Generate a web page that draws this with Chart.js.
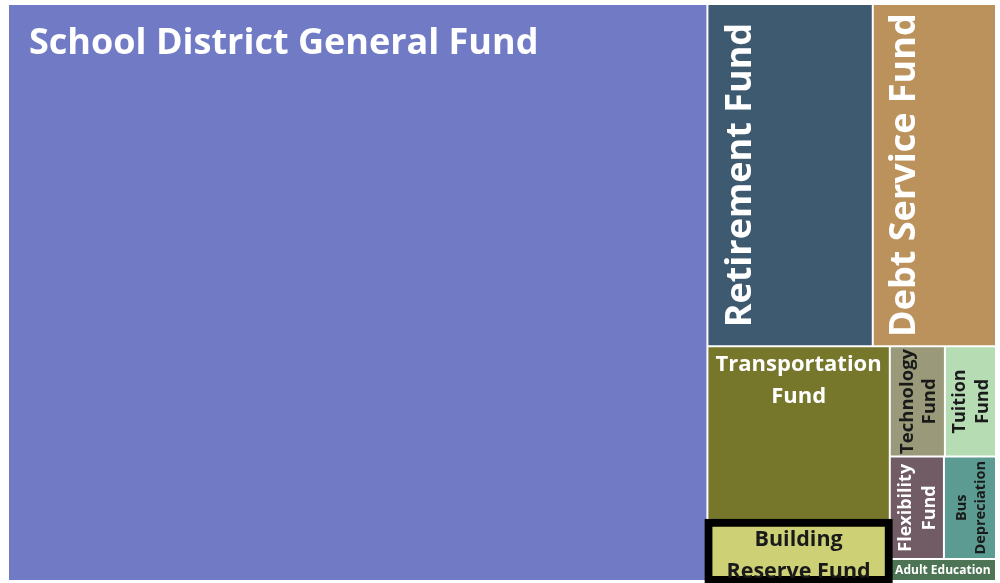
<!DOCTYPE html>
<html>
<head>
<meta charset="utf-8">
<script src="https://cdn.jsdelivr.net/npm/chart.js@4.4.1/dist/chart.umd.min.js"></script>
<style>
html,body{margin:0;padding:0;background:#fff;}
#wrap{width:1000px;height:583px;position:relative;}
</style>
</head>
<body>
<div id="wrap"><canvas id="c"></canvas></div>
<script>
// ---------- DATA ----------
const categories = ['School District General Fund','Retirement Fund','Debt Service Fund','Transportation Fund','Building Reserve Fund','Technology Fund','Tuition Fund','Flexibility Fund','Bus Depreciation','Adult Education'];
const values = [40135, 5627, 4194, 3185, 1074, 605, 561, 551, 530, 233];
const labelLines = [
  ['School District General Fund'],
  ['Retirement Fund'],
  ['Debt Service Fund'],
  ['Transportation','Fund'],
  ['Building','Reserve Fund'],
  ['Technology','Fund'],
  ['Tuition','Fund'],
  ['Flexibility','Fund'],
  ['Bus','Depreciation'],
  ['Adult Education']
];

// ---------- STYLE ----------
const fillColors = ['#717bc5','#3e5a71','#bc925c','#76772b','#cdd074','#9a9a7a','#b6dcb4','#715b64','#5b9b91','#4d7454'];
const borderWidths = [0,0,0,0,8,0,0,0,0,0];
const inflateAmounts = [0,0,0,0,4,0,0,0,0,0];
const labelStyles = [
  {size:36, color:'#ffffff', rotate:false, h:'left',   v:'top',    padX:20, padY:15, lh:42},
  {size:36, color:'#ffffff', rotate:true,  h:'center', v:'top',    padX:0,  padY:8,  lh:44},
  {size:36, color:'#ffffff', rotate:true,  h:'center', v:'top',    padX:0,  padY:6,  lh:44},
  {size:22, color:'#ffffff', rotate:false, h:'center', v:'top',    padX:0,  padY:0,  lh:32},
  {size:21.5, color:'#1a1a1a', rotate:false, h:'center', v:'top',  padX:0,  padY:0,  lh:32},
  {size:18.5, color:'#1a1a1a', rotate:true,  h:'center', v:'middle', padX:0, padY:0, lh:22},
  {size:18, color:'#1a1a1a', rotate:true,  h:'center', v:'middle', padX:0,  padY:0,  lh:23},
  {size:18, color:'#ffffff', rotate:true,  h:'center', v:'middle', padX:0,  padY:0,  lh:24},
  {size:14.5, color:'#1a1a1a', rotate:true, h:'center', v:'middle', padX:0, padY:0,  lh:19},
  {size:12, color:'#ffffff', rotate:false, h:'center', v:'middle', padX:0,  padY:0,  lh:16}
];
const GOLDEN = (1 + Math.sqrt(5)) / 2;
const GAP = 2;

// ---------- squarified layout (d3-style) ----------
function squarify(vals, x0, y0, x1, y1, ratio) {
  const order = vals.map((v, i) => i).sort((a, b) => vals[b] - vals[a]);
  const out = new Array(vals.length);
  let value = vals.reduce((a, b) => a + b, 0);
  let i0 = 0, i1 = 0;
  const n = order.length;
  while (i0 < n) {
    const dx = x1 - x0, dy = y1 - y0;
    let sumValue = vals[order[i1++]];
    let minV = sumValue, maxV = sumValue;
    const alpha = Math.max(dy / dx, dx / dy) / (value * ratio);
    let beta = sumValue * sumValue * alpha;
    let minRatio = Math.max(maxV / beta, beta / minV);
    for (; i1 < n; ++i1) {
      const nv = vals[order[i1]];
      sumValue += nv;
      if (nv < minV) minV = nv;
      if (nv > maxV) maxV = nv;
      beta = sumValue * sumValue * alpha;
      const newRatio = Math.max(maxV / beta, beta / minV);
      if (newRatio > minRatio) { sumValue -= nv; break; }
      minRatio = newRatio;
    }
    const row = order.slice(i0, i1);
    if (dx < dy) {
      const yb = i1 >= n ? y1 : y0 + dy * sumValue / value;
      let x = x0;
      row.forEach(idx => { const w = dx * vals[idx] / sumValue; out[idx] = {x0: x, x1: x + w, y0: y0, y1: yb}; x += w; });
      y0 = yb;
    } else {
      const xb = i1 >= n ? x1 : x0 + dx * sumValue / value;
      let y = y0;
      row.forEach(idx => { const h = dy * vals[idx] / sumValue; out[idx] = {x0: x0, x1: xb, y0: y, y1: y + h}; y += h; });
      x0 = xb;
    }
    value -= sumValue;
    i0 = i1;
  }
  return out;
}

// ---------- Treemap controller built on Chart.js ----------
class TreemapController extends Chart.DatasetController {
  update(mode) {
    const meta = this._cachedMeta;
    this.updateElements(meta.data, 0, meta.data.length, mode);
  }
  updateElements(rects, start, count, mode) {
    const meta = this._cachedMeta;
    const xS = meta.xScale, yS = meta.yScale;
    const ds = this.getDataset();
    const vals = ds.data.map(Number);
    const px0 = xS.getPixelForValue(xS.min), px1 = xS.getPixelForValue(xS.max);
    const py0 = yS.getPixelForValue(yS.max), py1 = yS.getPixelForValue(yS.min);
    const boxes = squarify(vals, px0, py0, px1, py1, GOLDEN);
    const g = (ds.spacing || 0) / 2;
    for (let i = start; i < start + count; i++) {
      const b = boxes[i];
      const options = this.resolveDataElementOptions(i, mode);
      const ia = options.inflateAmount === 'auto' ? 0 : (+options.inflateAmount || 0);
      const props = {
        x: (b.x0 + b.x1) / 2,
        y: b.y0 + g,
        base: b.y1 - g,
        width: Math.max(0, b.x1 - b.x0 - 2 * g),
        height: Math.max(0, b.y1 - b.y0 - 2 * g),
        horizontal: false,
        borderSkipped: {},
        enableBorderRadius: false,
        inflateAmount: ia,
        options
      };
      this.updateElement(rects[i], i, props, 'none');
    }
  }
  draw() {
    const ctx = this._ctx;
    const els = this._cachedMeta.data;
    els.forEach(el => { if (!(el.options.borderWidth > 0)) el.draw(ctx); });
    els.forEach(el => { if (el.options.borderWidth > 0) el.draw(ctx); });
  }
}
TreemapController.id = 'treemap';
TreemapController.defaults = { datasetElementType: false, dataElementType: 'bar' };
TreemapController.overrides = {};
Chart.register(TreemapController);

function drawLabel(ctx, rect, lines, st) {
  ctx.save();
  let W, H;
  if (st.rotate) {
    ctx.translate(rect.l, rect.t + rect.h);
    ctx.rotate(-Math.PI / 2);
    W = rect.h; H = rect.w;
  } else {
    ctx.translate(rect.l, rect.t);
    W = rect.w; H = rect.h;
  }
  ctx.font = 'bold ' + st.size + "px 'Open Sans', 'Noto Sans', sans-serif";
  ctx.fillStyle = st.color;
  ctx.textBaseline = 'alphabetic';
  const blockH = lines.length * st.lh;
  const top = st.v === 'top' ? st.padY : (H - blockH) / 2;
  lines.forEach((ln, k) => {
    const cy = top + (k + 0.5) * st.lh;
    const by = cy + 0.357 * st.size;
    if (st.h === 'left') { ctx.textAlign = 'left'; ctx.fillText(ln, st.padX, by); }
    else { ctx.textAlign = 'center'; ctx.fillText(ln, W / 2, by); }
  });
  ctx.restore();
}

const labelPlugin = {
  id: 'treemapLabels',
  afterDatasetsDraw(chart) {
    const meta = chart.getDatasetMeta(0);
    const ctx = chart.ctx;
    meta.data.forEach((el, i) => {
      const rect = {l: el.x - el.width / 2, t: el.y, w: el.width, h: el.base - el.y};
      drawLabel(ctx, rect, labelLines[i], labelStyles[i]);
    });
  }
};

new Chart(document.getElementById('c'), {
  type: 'treemap',
  data: {
    labels: categories,
    datasets: [{
      label: 'Funds',
      data: values,
      backgroundColor: fillColors,
      borderColor: '#000000',
      borderWidth: borderWidths,
      inflateAmount: inflateAmounts,
      borderSkipped: false,
      borderRadius: 0,
      spacing: GAP,
      clip: false
    }]
  },
  options: {
    responsive: true,
    maintainAspectRatio: false,
    devicePixelRatio: 1,
    animation: false,
    events: [],
    layout: { padding: { left: 8, top: 4, right: 4, bottom: 2 } },
    scales: {
      x: { type: 'linear', min: 0, max: 1, display: false },
      y: { type: 'linear', min: 0, max: 1, display: false }
    },
    plugins: { legend: { display: false }, tooltip: { enabled: false } }
  },
  plugins: [labelPlugin]
});
</script>
</body>
</html>
